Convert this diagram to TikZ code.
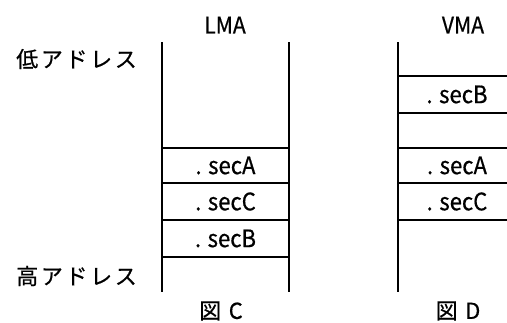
\documentclass[tikz,border=0pt]{standalone}
\usepackage{fontspec}
\setmainfont{Noto Sans CJK JP}[FakeStretch=0.92,FakeBold=0.6]
\newfontfamily\jpspaced{Noto Sans CJK JP}[LetterSpace=12,FakeBold=0.6]
\tikzset{
  memline/.style={line width=1.5pt},
  secbox/.style={draw,memline,inner sep=0pt,minimum height=37pt,font=\fontsize{24}{24}\selectfont},
  lbl/.style={inner sep=0pt,font=\fontsize{22}{22}\selectfont},
}
\begin{document}
\begin{tikzpicture}[x=1pt,y=-1pt]
	\useasboundingbox (0,0) rectangle (507,322);
	\clip (0,0) rectangle (507,322);
	% LMA side
	\node[lbl] (lma) at (225,25) {\fontsize{23}{23}\selectfont LMA};
	\node[lbl] (lo) at (76.5,59) {\jpspaced 低アドレス};
	\node[lbl] (hi) at (76.5,276) {\jpspaced 高アドレス};
	\node[secbox,minimum width=127pt,minimum height=35pt] (lmaA) at (225.5,165.5) {. secA};
	\node[secbox,minimum width=127pt] (lmaC) at (225.5,201.5) {. secC};
	\node[secbox,minimum width=127pt] (lmaB) at (225.5,238.5) {. secB};
	\draw[memline] (162,42) -- (162,292);
	\draw[memline] (289,42) -- (289,292);
	\node[lbl] (figc) at (221,311) {\jpspaced 図 C};
	% VMA side
	\node[lbl] (vma) at (463,25) {\fontsize{23}{23}\selectfont VMA};
	\node[secbox,minimum width=118pt] (vmaB) at (457,94.5) {. secB};
	\node[secbox,minimum width=118pt,minimum height=35pt] (vmaA) at (457,165.5) {. secA};
	\node[secbox,minimum width=118pt] (vmaC) at (457,201.5) {. secC};
	\draw[memline] (398,42) -- (398,292);
	\node[lbl] (figd) at (458,311) {\jpspaced 図 D};
\end{tikzpicture}
\end{document}
